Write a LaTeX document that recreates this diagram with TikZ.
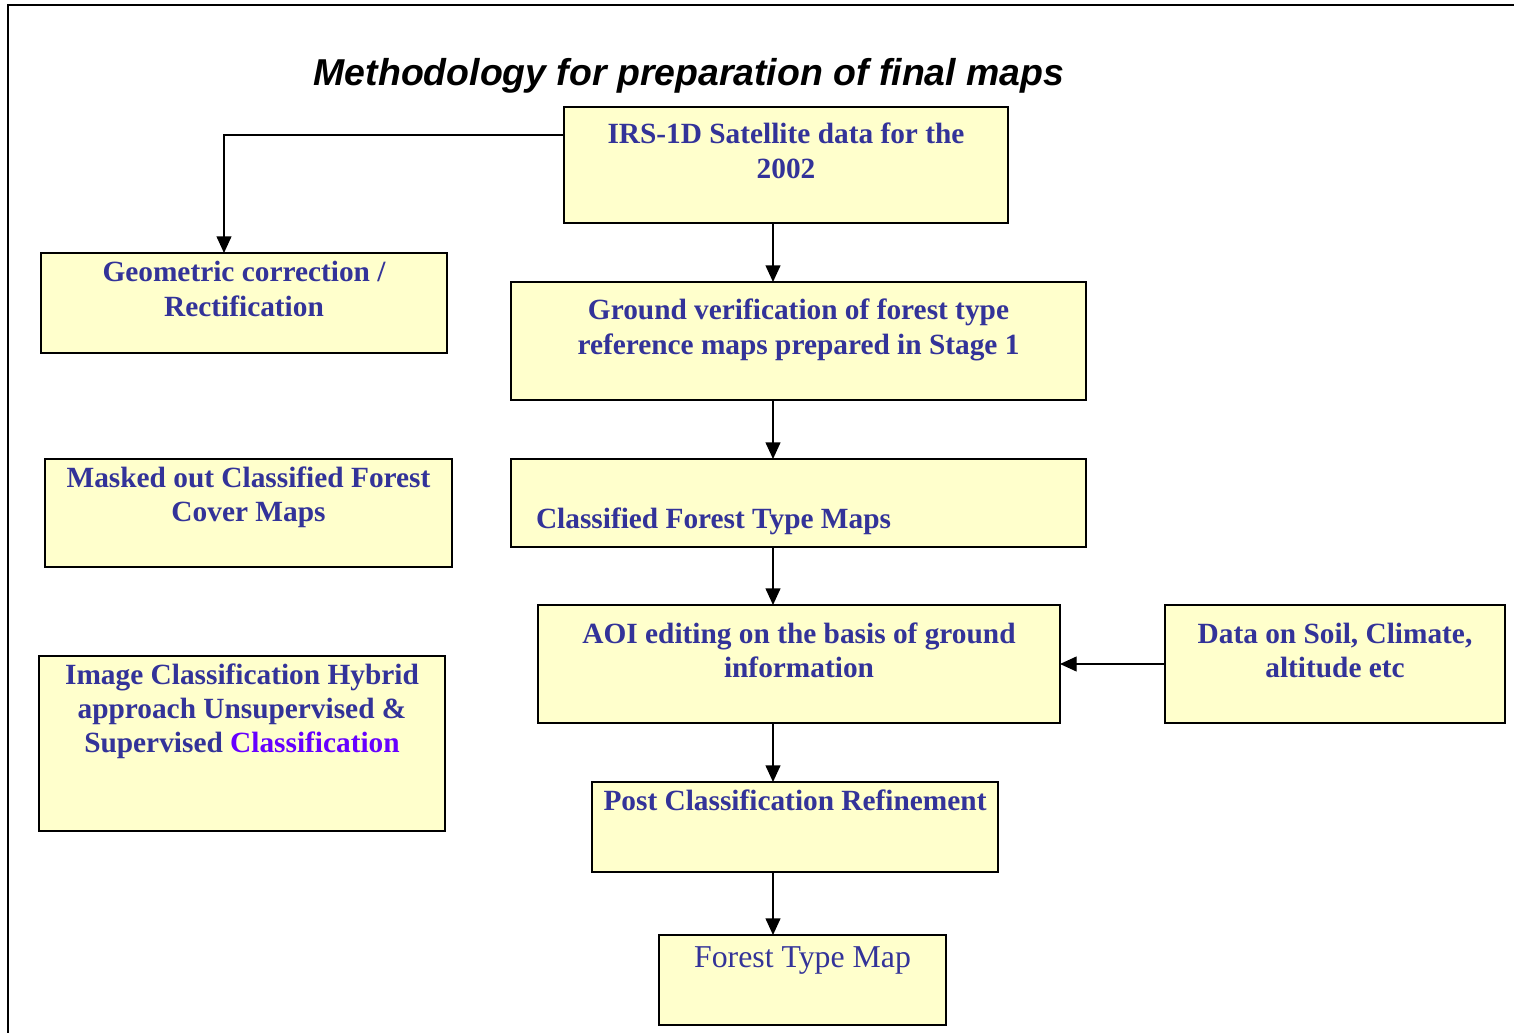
\documentclass[tikz,border=0pt]{standalone}
\usepackage{fontspec}
\setmainfont{Liberation Serif}
\setsansfont{Liberation Sans}
\usepackage{tikz}
\usetikzlibrary{arrows.meta}
\definecolor{boxfill}{HTML}{FFFFCC}
\definecolor{txtblue}{HTML}{333399}
\definecolor{txtpurple}{HTML}{6600FF}
\newlength{\pxlen}\setlength{\pxlen}{0.02cm}
% width, height, first baseline, text
\newcommand{\blktext}[4]{\parbox[c][#2\pxlen][t]{#1\pxlen}{\centering\rule{0pt}{#3\pxlen}#4\par}}
\tikzset{blk/.style={draw,fill=boxfill,line width=1.1pt,inner sep=0pt,outer sep=0pt,
    anchor=north west,text=txtblue,font=\bfseries\fontsize{16.7}{19.6}\selectfont},
  arr/.style={-{Triangle[length=9.5pt,width=8.5pt]},line width=0.8pt}}

\begin{document}
\begin{tikzpicture}[x=0.02cm,y=-0.02cm]
\useasboundingbox (0,0) rectangle (1514,1033);

% frame and title
\draw[line width=1.1pt] (8,1040) -- (8,5) -- (1520,5);
\node[anchor=base,
    font=\sffamily\bfseries\itshape\fontsize{21.3}{25}\selectfont
] (title) at (689,86) {Methodology for preparation of final maps};

\node[blk] (irs) at (564,107)
    {\blktext{444}{116}{37}{IRS-1D Satellite data for the\\2002}};

\node[blk] (geom) at (41,253)
    {\blktext{406}{100}{29}{Geometric correction /\\Rectification}};

\node[blk] (ground) at (511,282)
    {\blktext{575}{118}{38}{Ground verification of forest type\\reference maps prepared in Stage 1}};

\node[blk] (masked) at (45,459)
    {\blktext{407}{108}{28}{Masked out Classified Forest\\Cover Maps}};

\node[blk] (classified) at (511,459)
    {\parbox[c][88\pxlen][t]{575\pxlen}{\raggedright\rule{0pt}{69\pxlen}\hspace*{25\pxlen}Classified Forest Type Maps\par}};

\node[blk] (aoi) at (538,605)
    {\blktext{522}{118}{38}{AOI editing on the basis of ground\\information}};

\node[blk] (soil) at (1165,605)
    {\blktext{340}{118}{38}{Data on Soil, Climate,\\altitude etc}};

\node[blk] (hybrid) at (39,656)
    {\blktext{406}{175}{28}{Image Classification Hybrid\\approach Unsupervised \&\\Supervised \textcolor{txtpurple}{Classification}}};

\node[blk] (post) at (592,782)
    {\blktext{406}{90}{28}{Post Classification Refinement}};

\node[blk,
    font=\fontsize{18.1}{21}\selectfont
] (ftmap) at (659,935)
    {\blktext{287}{90}{32}{Forest Type Map}};

% Arrows
\coordinate (spine) at (773,0);
\coordinate (bend) at (224,135);
\draw[arr] (irs.west |- bend) -- (bend) -- (geom.north -| bend);
\draw[arr] (soil.west) -- (aoi.east);
\draw[arr] (irs.south -| spine) edge (ground.north -| spine)
    (ground.south -| spine) edge (classified.north -| spine)
    (classified.south -| spine) edge (aoi.north -| spine)
    (aoi.south -| spine) edge (post.north -| spine)
    (post.south -| spine) -- (ftmap.north -| spine);
\end{tikzpicture}
\end{document}
